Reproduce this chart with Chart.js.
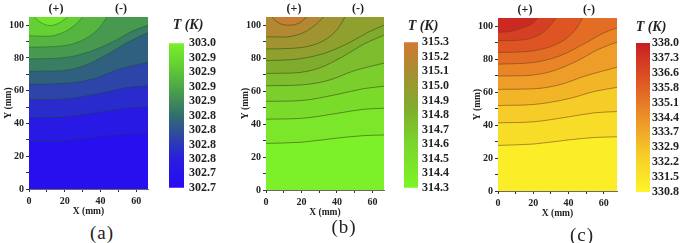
<!DOCTYPE html>
<html>
<head>
<meta charset="utf-8">
<script src="https://cdn.jsdelivr.net/npm/chart.js@4.4.0/dist/chart.umd.min.js"></script>
<style>
body { margin: 0; background: #fff; width: 680px; height: 243px; position: relative; overflow: hidden; font-family: "Liberation Serif", serif; }
canvas { position: absolute; }
.t { position: absolute; transform: translate(-50%, -50%); white-space: nowrap; color: #222; }
.pm { font-weight: bold; font-size: 12px; }
.tk { font-weight: bold; font-style: italic; font-size: 14px; }
.pl { font-size: 19px; letter-spacing: 1px; }
</style>
</head>
<body>
<canvas id="plotA" width="150" height="220" style="left:0;top:0"></canvas>
<canvas id="barA" width="60" height="169" style="left:165px;top:31px"></canvas>
<canvas id="plotB" width="149" height="221" style="left:237px;top:0"></canvas>
<canvas id="barB" width="65" height="168" style="left:400px;top:31px"></canvas>
<canvas id="plotC" width="150" height="222" style="left:469px;top:0"></canvas>
<canvas id="barC" width="48" height="169" style="left:632px;top:33px"></canvas>

<div class="t pm" style="left:56px;top:8px">(+)</div>
<div class="t pm" style="left:121px;top:8px">(-)</div>
<div class="t tk" style="left:188px;top:25px">T (K)</div>
<div class="t pl" style="left:102px;top:233px">(a)</div>

<div class="t pm" style="left:294px;top:8px">(+)</div>
<div class="t pm" style="left:358px;top:8px">(-)</div>
<div class="t tk" style="left:423px;top:26px">T (K)</div>
<div class="t pl" style="left:344px;top:227px">(b)</div>

<div class="t pm" style="left:525px;top:9px">(+)</div>
<div class="t pm" style="left:589px;top:9px">(-)</div>
<div class="t tk" style="left:651px;top:27px">T (K)</div>
<div class="t pl" style="left:582px;top:235px">(c)</div>

<script>
// isotherms, hottest first, as [x mm, y mm]
const contoursA = [
    [[3, 105], [6, 102], [12, 99.8], [18, 102], [21.5, 105]],
    [[0, 93.6], [10, 93.2], [20, 96], [26, 100.5], [30, 105]],
    [[0, 86.6], [15, 87], [27, 89.5], [36, 95], [40.5, 100], [43.5, 105]],
    [[0, 79.4], [18, 80], [33, 83.5], [48, 90.5], [58, 96.5], [66.5, 100]],
    [[0, 71.9], [15, 72], [30, 75], [45, 83], [55, 89.5], [66.5, 95.6]],
    [[0, 64], [20, 64.5], [35, 67], [50, 73], [66.5, 77.4]],
    [[0, 54.5], [20, 55], [40, 58.5], [55, 62], [66.5, 63]],
    [[0, 43.5], [20, 44], [40, 47], [55, 49.5], [66.5, 50]],
    [[0, 29], [20, 29.5], [40, 32], [55, 33.5], [66.5, 34]]
];
const levelsA = [302.97, 302.94, 302.91, 302.88, 302.85, 302.82, 302.79, 302.76, 302.73];
const rangeA = [302.7, 303.0];
const cbLabelsA = ['303.0', '302.9', '302.9', '302.9', '302.9', '302.8', '302.8', '302.8', '302.8', '302.7', '302.7'];

const contoursB = [
    [[3.5, 105], [6.5, 101.8], [13, 100], [19, 101.5], [23, 105]],
    [[0, 93], [10, 92.8], [20, 95], [27, 99.5], [32.5, 105]],
    [[0, 85.6], [15, 86], [28, 88.5], [37, 94], [41.5, 99.5], [44.5, 105]],
    [[0, 78.5], [18, 79.5], [33, 83], [48, 90], [58, 96], [66.5, 100]],
    [[0, 70.8], [15, 71], [30, 74], [45, 82], [55, 88.5], [66.5, 94]],
    [[0, 63.3], [20, 63.8], [35, 66.5], [50, 72.5], [66.5, 77]],
    [[0, 53.8], [20, 54.3], [40, 58], [55, 61.5], [66.5, 63]],
    [[0, 43], [20, 43.5], [40, 46.5], [55, 49], [66.5, 49.6]],
    [[0, 28.3], [20, 29], [40, 31.5], [55, 33], [66.5, 33.4]]
];
const levelsB = [315.2, 315.1, 315.0, 314.9, 314.8, 314.7, 314.6, 314.5, 314.4];
const rangeB = [314.3, 315.3];
const cbLabelsB = ['315.3', '315.2', '315.1', '315.0', '314.9', '314.8', '314.7', '314.6', '314.5', '314.4', '314.3'];

const contoursC = [
    [[0, 96.3], [8, 97], [15, 99.5], [20, 102], [22.5, 105]],
    [[0, 91.2], [12, 91.5], [22, 94], [28, 98.5], [33, 105]],
    [[0, 84.1], [15, 84.5], [28, 87], [38, 92], [44, 98], [48, 105]],
    [[0, 77], [20, 78], [35, 82], [50, 90], [60, 96], [67.5, 99]],
    [[0, 69.8], [15, 70], [30, 72.5], [45, 79], [57, 86], [67.5, 90.4]],
    [[0, 61.7], [20, 62], [35, 64.5], [50, 70], [67.5, 75.1]],
    [[0, 51.9], [20, 52.5], [40, 56], [55, 60.5], [67.5, 62.9]],
    [[0, 41.4], [20, 42], [40, 45], [55, 47.5], [67.5, 48.2]],
    [[0, 27.7], [20, 28.5], [40, 31], [55, 32.5], [67.5, 32.9]]
];
const levelsC = [337.28, 336.56, 335.84, 335.12, 334.40, 333.68, 332.96, 332.24, 331.52];
const rangeC = [330.8, 338.0];
const cbLabelsC = ['338.0', '337.3', '336.6', '335.8', '335.1', '334.4', '333.7', '332.9', '332.2', '331.5', '330.8'];

const xTickLabels = [0, 20, 40, 60];
const yTickLabels = [0, 20, 40, 60, 80, 100];

// colour maps [t, r, g, b]
const stopsA = [[0, 40, 10, 245], [0.2, 40, 30, 222], [0.35, 45, 68, 168], [0.5, 50, 110, 108], [0.7, 78, 168, 70], [0.85, 100, 208, 52], [1, 120, 240, 40]];
const stopsB = [[0, 125, 245, 40], [0.3, 122, 214, 44], [0.55, 128, 172, 45], [0.8, 168, 142, 50], [1, 210, 120, 50]];
const stopsC = [[0, 252, 245, 40], [0.25, 246, 205, 40], [0.5, 236, 145, 40], [0.75, 222, 85, 35], [1, 200, 30, 35]];

const tickFont = { family: 'Liberation Serif', size: 10, weight: 'bold' };
const titleFont = { family: 'Liberation Serif', size: 9.5, weight: 'bold' };

function colorAt(stops, t) {
    t = Math.max(0, Math.min(1, t));
    for (let i = 1; i < stops.length; i++) {
        if (t <= stops[i][0]) {
            let a = stops[i - 1], b = stops[i];
            let f = (t - a[0]) / (b[0] - a[0]);
            let c = [1, 2, 3].map(k => Math.round(a[k] + (b[k] - a[k]) * f));
            return 'rgb(' + c.join(',') + ')';
        }
    }
    let s = stops[stops.length - 1];
    return 'rgb(' + s[1] + ',' + s[2] + ',' + s[3] + ')';
}

function makePlot(id, contours, levels, range, stops, xMax, lineColor, padTop) {
    let lo = range[0], hi = range[1];
    let norm = v => (v - lo) / (hi - lo);
    let datasets = contours.map((pts, i) => {
        let upper = i === 0 ? hi : levels[i - 1];
        return {
            data: pts.map(p => ({ x: p[0], y: p[1] })),
            showLine: true,
            fill: 'end',
            backgroundColor: colorAt(stops, norm((levels[i] + upper) / 2)),
            borderColor: lineColor,
            borderWidth: 0.8,
            pointRadius: 0,
            cubicInterpolationMode: 'monotone'
        };
    });
    // coldest band underneath everything
    datasets.push({
        data: [{ x: 0, y: 0 }, { x: xMax, y: 0 }],
        showLine: true,
        fill: 'end',
        backgroundColor: colorAt(stops, norm((levels[levels.length - 1] + lo) / 2)),
        borderWidth: 0,
        pointRadius: 0
    });

    new Chart(document.getElementById(id), {
        type: 'scatter',
        data: { datasets: datasets },
        options: {
            responsive: false,
            animation: false,
            layout: { padding: { top: padTop, right: 2 } },
            plugins: { legend: { display: false }, tooltip: { enabled: false } },
            scales: {
                x: {
                    type: 'linear', min: 0, max: xMax,
                    ticks: {
                        stepSize: 10, includeBounds: false, autoSkip: false, maxRotation: 0,
                        padding: 3, font: tickFont, color: '#222',
                        callback: v => xTickLabels.includes(v) ? String(v) : ''
                    },
                    grid: { drawOnChartArea: false, tickLength: 3, color: '#333' },
                    border: { color: '#444', width: 0.8 },
                    title: { display: true, text: 'X (mm)', font: titleFont, color: '#222', padding: { top: 0, bottom: 3 } },
                    afterFit: s => { s.height = 31; }
                },
                y: {
                    type: 'linear', min: 0, max: 105,
                    ticks: {
                        stepSize: 10, includeBounds: false, autoSkip: false,
                        padding: 2, font: tickFont, color: '#222',
                        callback: v => yTickLabels.includes(v) ? String(v) : ''
                    },
                    grid: { drawOnChartArea: false, tickLength: 3, color: '#333' },
                    border: { color: '#444', width: 0.8 },
                    title: { display: true, text: 'Y (mm)', font: titleFont, color: '#222', padding: { top: 3, bottom: 0 } },
                    afterFit: s => { s.width = 29; }
                }
            }
        }
    });
}

function makeColorBar(id, range, stops, labels, axisWidth, labelPad, labelSize) {
    let lo = range[0], hi = range[1];
    let n = labels.length;
    new Chart(document.getElementById(id), {
        type: 'bar',
        data: {
            labels: [''],
            datasets: [{
                data: [[lo, hi]],
                barPercentage: 1,
                categoryPercentage: 1,
                borderWidth: 0,
                backgroundColor: function(ctx) {
                    let ca = ctx.chart.chartArea;
                    if (!ca) return colorAt(stops, 0.5);
                    let g = ctx.chart.ctx.createLinearGradient(0, ca.bottom, 0, ca.top);
                    stops.forEach(s => g.addColorStop(s[0], 'rgb(' + s[1] + ',' + s[2] + ',' + s[3] + ')'));
                    return g;
                }
            }]
        },
        options: {
            responsive: false,
            animation: false,
            layout: { padding: { left: 4, top: 10, bottom: 10 } },
            plugins: { legend: { display: false }, tooltip: { enabled: false } },
            scales: {
                x: { display: false },
                y: {
                    position: 'right', min: lo, max: hi,
                    afterBuildTicks: axis => {
                        axis.ticks = labels.map((l, i) => ({ value: lo + (hi - lo) * i / (n - 1) }));
                    },
                    ticks: {
                        autoSkip: false, padding: labelPad, color: '#222',
                        font: { family: 'Liberation Serif', size: labelSize, weight: 'bold' },
                        callback: (v, i) => labels[n - 1 - i]
                    },
                    grid: { display: false, drawTicks: false },
                    border: { display: false },
                    afterFit: s => { s.width = axisWidth; }
                }
            }
        }
    });
}

makePlot('plotA', contoursA, levelsA, rangeA, stopsA, 66.5, 'rgba(25,70,35,0.5)', 17);
makePlot('plotB', contoursB, levelsB, rangeB, stopsB, 66.5, 'rgba(55,80,20,0.75)', 17);
makePlot('plotC', contoursC, levelsC, rangeC, stopsC, 67.5, 'rgba(115,65,20,0.7)', 18);

makeColorBar('barA', rangeA, stopsA, cbLabelsA, 41, 5, 12);
makeColorBar('barB', rangeB, stopsB, cbLabelsB, 47, 4, 12);
makeColorBar('barC', rangeC, stopsC, cbLabelsC, 30, 2, 12);
</script>
</body>
</html>
